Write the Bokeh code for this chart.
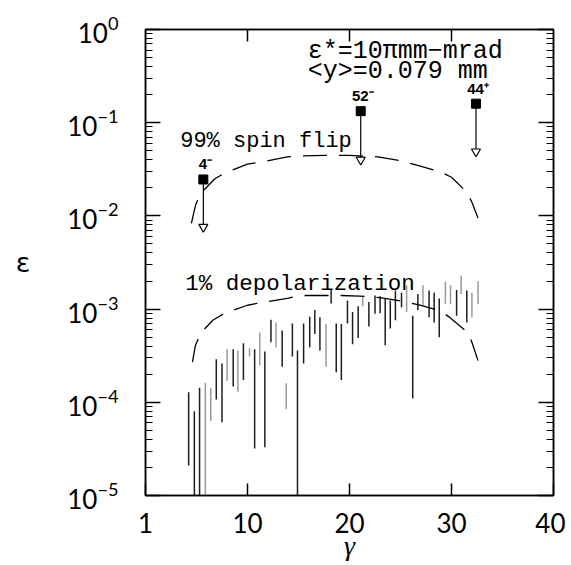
from bokeh.plotting import figure
from bokeh.models import (LogAxis, LinearAxis, FixedTicker, LogTicker,
                          Range1d, ColumnDataSource, CustomJSTickFormatter)
from bokeh.core.properties import value
from bokeh.embed import file_html
from bokeh.resources import INLINE

# ---------------- data ----------------
# dashed model curves
spin_g = [4.5, 4.9, 5.4, 6.8, 7.8, 10.0, 11.4, 13.9, 15.2, 17.6, 20.0, 22.8,
          25.1, 26.6, 28.8, 30.0, 31.5, 32.0, 32.6]
spin_e = [0.0083, 0.013, 0.0174, 0.025, 0.029, 0.036, 0.038, 0.043, 0.044,
          0.0445, 0.0445, 0.043, 0.039, 0.035, 0.030, 0.026, 0.018, 0.014, 0.0095]

depol_g = [4.6, 4.9, 5.4, 6.6, 7.8, 10.0, 11.4, 13.9, 15.0, 17.6, 19.0, 21.0,
           23.0, 25.5, 26.9, 28.8, 29.8, 31.6, 32.0, 32.6]
depol_e = [2.7e-4, 4.1e-4, 5.5e-4, 7.6e-4, 9.1e-4, 1.1e-3, 1.18e-3, 1.3e-3,
           1.4e-3, 1.4e-3, 1.4e-3, 1.38e-3, 1.33e-3, 1.2e-3, 1.1e-3, 9.7e-4,
           8.2e-4, 5.6e-4, 4.4e-4, 2.8e-4]

# vertical error bars (dark set)
dark_g = [4.23, 4.79, 5.3, 6.94, 7.5, 8.6, 9.6, 10.7, 11.7, 12.3, 13.4, 14.4,
          14.9, 15.5, 16.1, 16.6, 17.1, 18.2, 18.7, 19.2, 19.8, 20.3, 20.85,
          21.9, 22.5, 23.0, 23.5, 24.0, 24.5, 25.1, 26.2, 26.7, 27.8, 28.3,
          28.8, 30.5, 31.5]
dark_lo = [2.1e-5, 5e-6, 5e-6, 1.07e-4, 6.1e-5, 1.48e-4, 1.74e-4, 3.2e-5,
           3.3e-5, 4.4e-4, 2.4e-4, 3.1e-4, 5e-6, 2.6e-4, 3.9e-4, 5.4e-4,
           3.6e-4, 1.15e-3, 2.1e-4, 1.74e-4, 7.0e-4, 4.2e-4, 4.9e-4, 6.5e-4,
           8.9e-4, 9.0e-4, 4.1e-4, 6.2e-4, 7.6e-4, 1.05e-3, 1.1e-4, 9.7e-4,
           8.2e-4, 7.2e-4, 5.0e-4, 8.5e-4, 7.2e-4]
dark_hi = [1.28e-4, 8.0e-5, 1.43e-4, 2.9e-4, 2.6e-4, 3.7e-4, 4.3e-4, 3.7e-4,
           3.5e-4, 7.7e-4, 5.9e-4, 7.0e-4, 3.6e-4, 7.0e-4, 8.3e-4, 9.8e-4,
           8.2e-4, 1.6e-3, 7.0e-4, 6.9e-4, 1.24e-3, 9.3e-4, 1.07e-3, 1.19e-3,
           1.4e-3, 1.37e-3, 1.3e-3, 1.24e-3, 1.58e-3, 1.5e-3, 8.5e-4, 1.45e-3,
           1.58e-3, 1.5e-3, 1.3e-3, 1.6e-3, 1.58e-3]

# vertical error bars (grey set)
grey_g = [5.87, 6.4, 8.0, 9.06, 10.2, 11.2, 12.8, 13.8, 17.7, 21.3, 25.6, 27.2,
          29.4, 29.9, 30.95, 32.0, 32.6]
grey_lo = [5e-6, 6.3e-5, 1.7e-4, 1.3e-4, 3.1e-4, 2.5e-4, 3.9e-4, 8.5e-5,
           2.4e-4, 1.07e-3, 9.3e-4, 1.1e-3, 1.14e-3, 1.14e-3, 1.45e-3, 8.2e-4,
           1.14e-3]
grey_hi = [1.62e-4, 1.43e-4, 3.7e-4, 3.6e-4, 3.8e-4, 5.6e-4, 7.2e-4, 1.6e-4,
           6.9e-4, 1.37e-3, 1.8e-3, 1.8e-3, 1.95e-3, 1.8e-3, 2.3e-3, 1.5e-3,
           2.0e-3]

# upper-limit points
lim_g = [5.67, 21.1, 32.4]
lim_hi = [0.0246, 0.133, 0.16]
lim_lo = [0.0076, 0.040, 0.049]
lim_lbl = ["4\u207b", "52\u207b", "44\u207a"]

x_ticks = [0, 10, 20, 30, 40]
x_tick_labels = {0: "1", 10: "10", 20: "20", 30: "30", 40: "40"}

# ---------------- figure ----------------
p = figure(width=565, height=565, y_axis_type="log",
           x_range=Range1d(0, 40), y_range=Range1d(1e-5, 1),
           output_backend="svg", toolbar_location=None,
           min_border_left=145, min_border_right=12,
           min_border_top=29, min_border_bottom=70)
p.background_fill_color = "white"
p.border_fill_color = "white"
p.grid.visible = False
p.outline_line_color = "black"
p.outline_line_width = 1.5

TICK_FONT = "Lato"
blank = CustomJSTickFormatter(code="return ''")

# bottom axis
xa = p.xaxis[0]
xa.ticker = FixedTicker(ticks=x_ticks, minor_ticks=[])
xa.major_label_overrides = x_tick_labels
xa.major_tick_in = 12
xa.major_tick_out = 0
xa.minor_tick_in = 0
xa.minor_tick_out = 0
xa.major_label_standoff = 17
xa.major_label_text_font = TICK_FONT
xa.major_label_text_font_size = "26px"
xa.major_label_text_color = "black"
xa.axis_line_width = 1.5
xa.major_tick_line_width = 1.5
xa.axis_label = "\u03b3"
xa.axis_label_text_font = "Liberation Serif"
xa.axis_label_text_font_style = "italic"
xa.axis_label_text_font_size = "28px"
xa.axis_label_text_color = "black"
xa.axis_label_standoff = -6

# left axis
ya = p.yaxis[0]
ya.ticker = LogTicker(num_minor_ticks=10)
ya.major_tick_in = 15
ya.major_tick_out = 0
ya.minor_tick_in = 7
ya.minor_tick_out = 0
ya.major_label_standoff = 27
ya.major_label_text_font = TICK_FONT
ya.major_label_text_font_size = "26px"
ya.major_label_text_color = "black"
ya.axis_line_width = 1.5
ya.major_tick_line_width = 1.5
ya.minor_tick_line_width = 1.2
ya.axis_label = "\u03b5"
ya.axis_label_text_font = "DejaVu Sans"
ya.axis_label_text_font_style = "normal"
ya.axis_label_text_font_size = "27px"
ya.axis_label_text_color = "black"
ya.axis_label_standoff = 34
try:
    ya.axis_label_orientation = "horizontal"
except Exception:
    pass

# right axis
ra = LogAxis(ticker=LogTicker(num_minor_ticks=10), formatter=blank)
ra.major_tick_in = 15
ra.major_tick_out = 0
ra.minor_tick_in = 7
ra.minor_tick_out = 0
ra.major_label_text_font_size = "2px"
ra.major_label_standoff = 0
ra.axis_line_width = 1.5
ra.major_tick_line_width = 1.5
ra.minor_tick_line_width = 1.2
p.add_layout(ra, "right")

# top axis
ta = LinearAxis(ticker=FixedTicker(ticks=x_ticks[1:-1], minor_ticks=[]),
                formatter=blank)
ta.major_tick_in = 12
ta.major_tick_out = 0
ta.minor_tick_in = 0
ta.minor_tick_out = 0
ta.major_label_text_font_size = "2px"
ta.major_label_standoff = 0
ta.axis_line_width = 1.5
ta.major_tick_line_width = 1.5
p.add_layout(ta, "above")

# ---------------- glyphs ----------------
p.segment(x0=grey_g, y0=grey_lo, x1=grey_g, y1=grey_hi,
          line_color="#9a9a9a", line_width=1.5)
p.segment(x0=dark_g, y0=dark_lo, x1=dark_g, y1=dark_hi,
          line_color="#1e1e1e", line_width=1.5)

p.line(spin_g, spin_e, line_color="black", line_width=1.3, line_dash="24 12")
p.line(depol_g, depol_e, line_color="black", line_width=1.3, line_dash="24 12")

lim_src = ColumnDataSource(dict(g=lim_g, hi=lim_hi, lo=lim_lo, lbl=lim_lbl))
p.segment(x0="g", y0="hi", x1="g", y1="lo", source=lim_src,
          line_color="black", line_width=1.2)
p.scatter(x="g", y="lo", source=lim_src, marker="inverted_triangle", size=9,
          fill_color="white", line_color="black", line_width=1.2)
p.scatter(x="g", y="hi", source=lim_src, marker="square", size=9,
          fill_color="black", line_color="black")
p.text(x="g", y="hi", text="lbl", source=lim_src, x_offset=2, y_offset=-7,
       text_align="center", text_baseline="bottom",
       text_font=value("Liberation Sans"), text_font_style="bold",
       text_font_size="15px", text_color="black")

MONO = value("Liberation Mono")
p.text(x=[15.9], y=[0.58], text=["\u03b5*=10\u03c0mm\u2212mrad"],
       text_font=MONO, text_font_size="25px", text_baseline="middle",
       text_align="left", text_color="black")
p.text(x=[15.9], y=[0.354], text=["<y>=0.079 mm"],
       text_font=MONO, text_font_size="25px", text_baseline="middle",
       text_align="left", text_color="black")
p.text(x=[3.4], y=[0.0628], text=["99% spin flip"],
       text_font=MONO, text_font_size="22px", text_baseline="middle",
       text_align="left", text_color="black")
p.text(x=[3.9], y=[1.88e-3], text=["1% depolarization"],
       text_font=MONO, text_font_size="22.5px", text_baseline="middle",
       text_align="left", text_color="black")

open("out.html", "w").write(file_html(p, INLINE))
